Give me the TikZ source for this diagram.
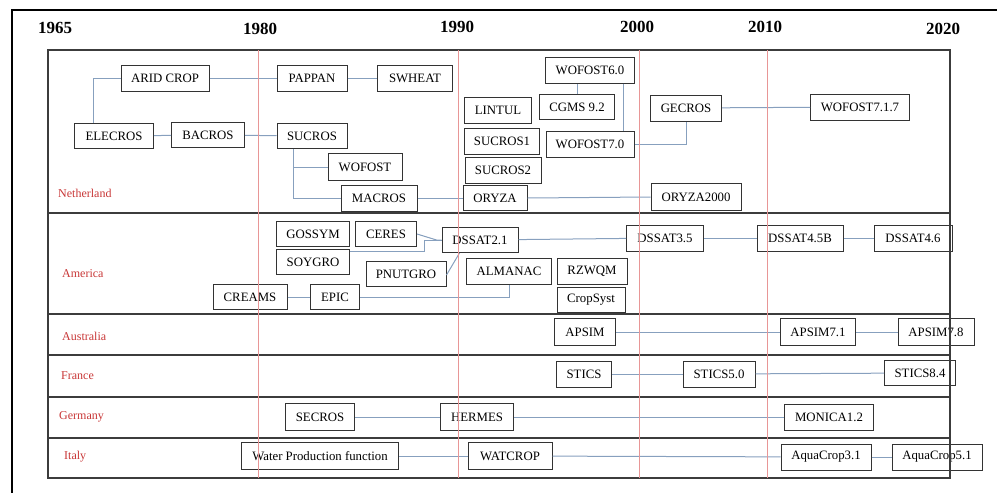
\documentclass[tikz,border=0pt]{standalone}
\usepackage{fontspec}
\setmainfont{Liberation Serif}
\definecolor{connc}{RGB}{135,160,190}
\definecolor{redline}{RGB}{232,150,150}
\definecolor{country}{RGB}{200,55,55}
\definecolor{gridc}{RGB}{60,60,60}
\tikzset{
  mbox/.style={draw=black!80, line width=1pt, minimum height=26pt, inner sep=0pt,
    font=\fontsize{12.8}{14}\selectfont},
  conn/.style={draw=connc, line width=1pt},
  yearlab/.style={font=\fontsize{17}{19}\selectfont\bfseries, inner sep=0pt},
  ctry/.style={anchor=west, text=country, font=\fontsize{12}{14}\selectfont, inner sep=0pt},
}
\begin{document}
\begin{tikzpicture}[x=1pt,y=-1pt]
\useasboundingbox (0,0) rectangle (997,493);
% outer frame
\draw[line width=2pt] (12,493) -- (12,10) -- (997,10);
% years
\node[yearlab] (y1965) at (55,28) {1965};
\node[yearlab] (y1980) at (260,29) {1980};
\node[yearlab] (y1990) at (457,27) {1990};
\node[yearlab] (y2000) at (637,27) {2000};
\node[yearlab] (y2010) at (765,27) {2010};
\node[yearlab] (y2020) at (943,29) {2020};
% country labels
\node[ctry] (nl) at (58,193) {Netherland};
\node[ctry] (us) at (62,274) {America};
\node[ctry] (au) at (62,336) {Australia};
\node[ctry] (fr) at (61,376) {France};
\node[ctry] (de) at (59,417) {Germany};
\node[ctry] (it) at (64,457) {Italy};
% Netherland
\node[mbox, minimum width=88pt] (arid) at (165,78) {ARID CROP};
\node[mbox, minimum width=70pt] (pappan) at (312,78) {PAPPAN};
\node[mbox, minimum width=75pt] (swheat) at (415,78) {SWHEAT};
\node[mbox, minimum width=79pt, minimum height=25pt] (elecros) at (114,136) {ELECROS};
\node[mbox, minimum width=73pt, minimum height=25pt] (bacros) at (208,135) {BACROS};
\node[mbox, minimum width=70pt, minimum height=25pt] (sucros) at (312,136) {SUCROS};
\node[mbox, minimum width=74pt, minimum height=27pt] (wofost) at (365,167) {WOFOST};
\node[mbox, minimum width=76pt] (macros) at (379,198) {MACROS};
\node[mbox, minimum width=67pt] (lintul) at (498,110) {LINTUL};
\node[mbox, minimum width=75pt] (sucros1) at (502,141) {SUCROS1};
\node[mbox, minimum width=76pt] (sucros2) at (503,170) {SUCROS2};
\node[mbox, minimum width=64pt, minimum height=25pt] (oryza) at (495,198) {ORYZA};
\node[mbox, minimum width=89pt] (wof6) at (590,70) {WOFOST6.0};
\node[mbox, minimum width=75pt, minimum height=25pt] (cgms) at (577,107) {CGMS 9.2};
\node[mbox, minimum width=88pt] (wof7) at (590,144) {WOFOST7.0};
\node[mbox, minimum width=71pt] (gecros) at (686,108) {GECROS};
\node[mbox, minimum width=99pt] (wof717) at (860,107) {WOFOST7.1.7};
\node[mbox, minimum width=90pt, minimum height=27pt] (oryza2000) at (696,197) {ORYZA2000};
% America
\node[mbox, minimum width=73pt, minimum height=25pt] (gossym) at (313,234) {GOSSYM};
\node[mbox, minimum width=61pt, minimum height=25pt] (ceres) at (386,234) {CERES};
\node[mbox, minimum width=73pt, minimum height=25pt] (soygro) at (313,262) {SOYGRO};
\node[mbox, minimum width=80pt, minimum height=25pt] (pnutgro) at (406,274) {PNUTGRO};
\node[mbox, minimum width=76pt, minimum height=25pt] (dssat21) at (480,240) {DSSAT2.1};
\node[mbox, minimum width=74pt, minimum height=25pt] (creams) at (250,297) {CREAMS};
\node[mbox, minimum width=49pt, minimum height=25pt] (epic) at (335,297) {EPIC};
\node[mbox, minimum width=85pt] (almanac) at (509,271) {ALMANAC};
\node[mbox, minimum width=70pt] (rzwqm) at (592,271) {RZWQM};
\node[mbox, minimum width=68pt, minimum height=25pt] (cropsyst) at (591,300) {CropSyst};
\node[mbox, minimum width=77pt] (dssat35) at (665,238) {DSSAT3.5};
\node[mbox, minimum width=86pt] (dssat45b) at (800,238) {DSSAT4.5B};
\node[mbox, minimum width=78pt] (dssat46) at (913,238) {DSSAT4.6};
% Australia
\node[mbox, minimum width=61pt, minimum height=27pt] (apsim) at (585,332) {APSIM};
\node[mbox, minimum width=75pt, minimum height=27pt] (apsim71) at (818,332) {APSIM7.1};
\node[mbox, minimum width=76pt, minimum height=27pt] (apsim78) at (936,332) {APSIM7.8};
% France
\node[mbox, minimum width=55pt] (stics) at (584,374) {STICS};
\node[mbox, minimum width=72pt] (stics50) at (719,374) {STICS5.0};
\node[mbox, minimum width=71pt, minimum height=25pt] (stics84) at (920,373) {STICS8.4};
% Germany
\node[mbox, minimum width=69pt, minimum height=27pt] (secros) at (320,417) {SECROS};
\node[mbox, minimum width=73pt, minimum height=27pt] (hermes) at (477,417) {HERMES};
\node[mbox, minimum width=89pt] (monica) at (829,417) {MONICA1.2};
% Italy
\node[mbox, minimum width=157pt, minimum height=27pt] (wpf) at (320,456) {Water Production function};
\node[mbox, minimum width=84pt, minimum height=27pt] (watcrop) at (510,456) {WATCROP};
\node[mbox, minimum width=90pt] (aqua31) at (826,457) {AquaCrop3.1};
\node[mbox, minimum width=90pt] (aqua51) at (937,457) {AquaCrop5.1};
% connectors Netherland
\coordinate (ej) at ([xshift=19pt]elecros.north west);
\draw[conn] (ej) |- (arid.west);
\draw[conn] (arid) -- (pappan);
\draw[conn] (pappan) -- (swheat);
\draw[conn] (elecros) -- (bacros);
\draw[conn] (bacros) -- (sucros);
\coordinate (sj) at ([xshift=17pt]sucros.south west);
\draw[conn] (sj) |- (macros.west);
\draw[conn] (sj |- wofost.west) -- (wofost.west);
\draw[conn] (macros) -- (oryza);
\draw[conn] (oryza.east) -- (oryza2000.west);
\draw[conn] (cgms.north) -- (cgms.north |- wof6.south);
\coordinate (wv) at ([xshift=-12pt]wof6.south east);
\draw[conn] (wv) -- (wv |- wof7.north);
\draw[conn] (wof7.east) -| (gecros.south);
\draw[conn] (gecros) -- (wof717);
% connectors America
\draw[conn] (ceres.east) -- ([xshift=-5pt]dssat21.west) -- (dssat21.west);
\coordinate (s1) at ([yshift=-2pt]soygro.north east);
\coordinate (sy) at ([xshift=-17pt]dssat21.west);
\draw[conn] (s1) -| (sy) -- (dssat21.west);
\draw[conn] ([yshift=-1pt]pnutgro.east) -- ([xshift=18pt]dssat21.south west);
\draw[conn] (dssat21) -- (dssat35);
\draw[conn] (dssat35) -- (dssat45b);
\draw[conn] (dssat45b) -- (dssat46);
\draw[conn] (creams) -- (epic);
\draw[conn] (epic.east) -| (almanac.south);
% Australia, France, Germany, Italy
\draw[conn] (apsim) -- (apsim71);
\draw[conn] (apsim71) -- (apsim78);
\draw[conn] (stics) -- (stics50);
\draw[conn] (stics50) -- (stics84);
\draw[conn] (secros) -- (hermes);
\draw[conn] (hermes) -- (monica);
\draw[conn] (wpf) -- (watcrop);
\draw[conn] (watcrop) -- (aqua31);
\draw[conn] (aqua31) -- (aqua51);
% grid
\draw[gridc, line width=1.3pt] (48,50) rectangle (950,478);
\foreach \yy in {213,314,355,397,438} \draw[gridc, line width=1.3pt] (48,\yy) -- (950,\yy);
\foreach \xx in {258,458,639,767} \draw[redline, line width=1pt] (\xx,50) -- (\xx,478);
\end{tikzpicture}
\end{document}
